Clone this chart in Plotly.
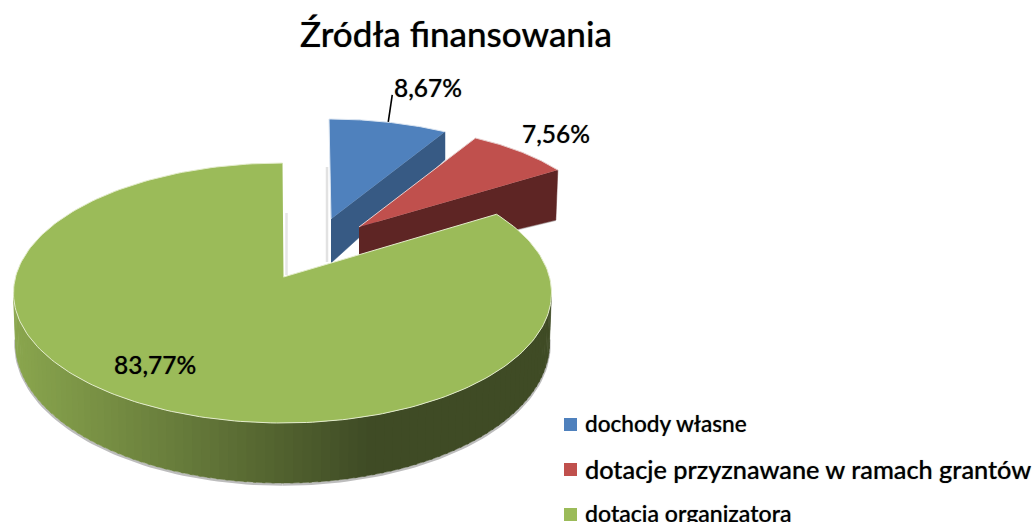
import numpy as np
import plotly.graph_objects as go

# ---- data -------------------------------------------------------------
categories = ["dochody własne", "dotacje przyznawane w ramach grantów", "dotacja organizatora"]
shares = [8.67, 7.56, 83.77]
labels = ["8,67%", "7,56%", "83,77%"]
title = "Źródła finansowania"

top_colors = ["#4F81BD", "#C0504D", "#9BBB59"]
side_colors = ["#375A84", "#5E2524"]

W, H = 1035, 522
FONT = "Lato"
SOFT = "0 0 1px rgba(0,0,0,0.55)"

# ---- projection of a pie angle on the tilted disc ---------------------
cum = np.cumsum([0] + shares) / 100.0


def proj(theta_deg):
    """perspective squeeze of the true pie angle (clockwise from 12 o'clock)"""
    return theta_deg - 6.4 * np.sin(np.radians(2 * theta_deg))


def ell(c, r, t):
    tr = np.radians(t)
    return c[0] + r[0] * np.sin(tr), c[1] - r[1] * np.cos(tr)


def arc(c, r, a, b, n=60):
    return ell(c, r, np.linspace(a, b, n))


fig = go.Figure()


def poly(x, y, fill, line=None, lw=0):
    fig.add_trace(go.Scatter(
        x=list(x), y=list(y), mode="lines", fill="toself", fillcolor=fill,
        line=dict(color=line or fill, width=lw if line else 0.5),
        hoverinfo="skip", showlegend=False))


def stroke(x, y, color, w):
    fig.add_trace(go.Scatter(x=list(x), y=list(y), mode="lines",
                             line=dict(color=color, width=w),
                             hoverinfo="skip", showlegend=False))


a0, a1, a2 = [proj(360 * v) for v in cum[:3]]

# ---- blue slice -------------------------------------------------------
b_c, b_r, b_apex, b_d = (329, 249), (269, 130), (331, 219), 28
stroke([b_apex[0] - 4] * 2, [167, 262], "#E2E2E2", 2.5)
ax, ay = arc(b_c, b_r, a0, a1)
poly([b_apex[0], ax[-1], ax[-1], b_apex[0]],
     [b_apex[1], ay[-1], ay[-1] + b_d, b_apex[1] + 44], side_colors[0])
poly(np.r_[b_apex[0], ax], np.r_[b_apex[1], ay], top_colors[0], "#DCE6F2", 1)

# ---- red slice --------------------------------------------------------
r_c, r_r, r_apex, r_d = (378, 235.5), (226, 108), (359, 227), 50
rx, ry = arc(r_c, r_r, a1, a2)
stroke([rx[-1] - 2, rx[-1] - 60], [r_d + ry[-1], r_d + ry[-1] + 14], "#CFCFCF", 2)
poly([r_apex[0], rx[-1], rx[-1] - 2, r_apex[0]],
     [r_apex[1], ry[-1], ry[-1] + r_d, r_apex[1] + 40], side_colors[1])
poly(np.r_[r_apex[0], rx], np.r_[r_apex[1], ry], top_colors[1], "#E8CFCE", 1)

# ---- green slice ------------------------------------------------------
g_c, g_r, g_apex = (282.5, 293), (269, 130), (283.5, 277)
gb_c, gb_r = (282.5, 343), (267, 140)
stroke([g_apex[0] + 3] * 2, [213, 275], "#E6E6E6", 2.5)
sx, sy = arc(gb_c, gb_r, 180, 272)
stroke(sx, sy + 1.5, "#BDBDBD", 2.5)
sx, sy = arc(gb_c, gb_r, 88, 180)
stroke(sx, sy + 1.5, "#BDBDBD", 2.5)


def side_color(x):
    f = min(max((x - 15) / (370 - 15), 0), 1)
    a, b = np.array([0x8A, 0xA6, 0x4E]), np.array([0x3F, 0x4B, 0x25])
    c = a + (b - a) * f
    return "rgb(%d,%d,%d)" % tuple(c)


edges = np.linspace(90, 270, 91)
for t0, t1 in zip(edges[:-1], edges[1:]):
    ux, uy = arc(g_c, g_r, t0 - 0.3, t1 + 0.3, 4)
    lx, ly = arc(gb_c, gb_r, t0 - 0.3, t1 + 0.3, 4)
    poly(np.r_[ux, lx[::-1]], np.r_[uy, ly[::-1]], side_color((ux.mean() + lx.mean()) / 2))

gx, gy = arc(g_c, g_r, a2, 360, 240)
poly(np.r_[g_apex[0], gx], np.r_[g_apex[1], gy], top_colors[2], "#E3ECCB", 1)

# ---- leader line of the first label -----------------------------------
mx, my = ell(b_c, b_r, proj(180 * (cum[0] + cum[1])))
stroke([mx + 2, mx + 6], [my, my - 27], "#000000", 1.6)

# ---- legend swatches --------------------------------------------------
legend_y = [423, 469, 513]
swatch_y = [424.5, 469.5, 514.5]
legend_sizes = [22.6, 25.3, 23.1]
for yy, col in zip(swatch_y, top_colors):
    fig.add_trace(go.Scatter(x=[570.5], y=[yy], mode="markers",
                             marker=dict(symbol="square", size=13, color=col, line=dict(width=0)),
                             hoverinfo="skip", showlegend=False))


def fnt(size):
    return dict(size=size, color="#000000", family=FONT, weight=500, shadow=SOFT)


ann = [dict(x=456, y=33, text=title, font=fnt(35))]
ann += [
    dict(x=428, y=87, text=labels[0], font=fnt(24.5)),
    dict(x=556, y=133, text=labels[1], font=fnt(24.5)),
    dict(x=155, y=364, text=labels[2], font=fnt(24.5)),
]
for yy, name, sz in zip(legend_y, categories, legend_sizes):
    ann.append(dict(x=583, y=yy, text=name, xanchor="left", font=fnt(sz)))
for a in ann:
    a.update(xref="x", yref="y", showarrow=False, yanchor="middle")
    a.setdefault("xanchor", "center")

fig.update_layout(
    width=W, height=H, margin=dict(l=0, r=0, t=0, b=0),
    paper_bgcolor="white", plot_bgcolor="white", annotations=ann,
    xaxis=dict(range=[0, W], visible=False, fixedrange=True),
    yaxis=dict(range=[H, 0], visible=False, fixedrange=True),
    showlegend=False,
)
fig.write_html("out.html", config={"displayModeBar": False},
               post_script="document.body.style.margin='0';document.body.style.overflow='hidden';")
